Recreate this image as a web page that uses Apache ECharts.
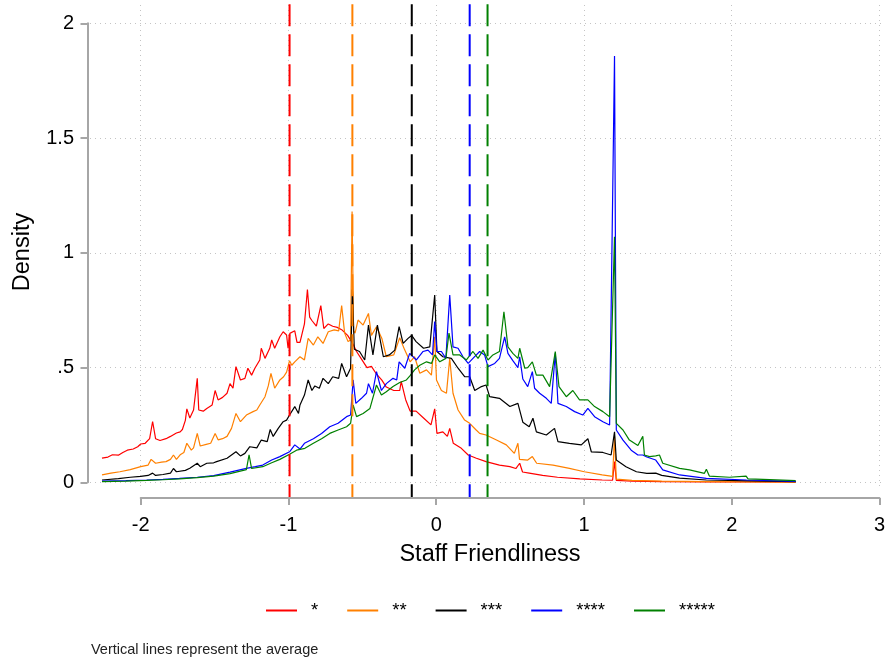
<!DOCTYPE html>
<html>
<head>
<meta charset="utf-8">
<script src="https://cdn.jsdelivr.net/npm/echarts@6/dist/echarts.min.js"></script>
<style>
  html, body { margin: 0; padding: 0; background: #ffffff; }
  #chart { width: 888px; height: 663px; }
</style>
</head>
<body>
<div id="chart"></div>
<script>
// Kernel-style density traces of staff friendliness, one per star rating
const ratingNames = ['*', '**', '***', '****', '*****'];
const ratingColors = ['#ff0000', '#ff8000', '#000000', '#0000ff', '#008000'];

// Mean of each rating group (drawn as dashed verticals)
const ratingMeans = [-1.0, -0.578, -0.179, 0.21, 0.33];

const yTickLabels = { 0: '0', 0.5: '.5', 1: '1', 1.5: '1.5', 2: '2' };

const density1 = [[-2.26,0.105],[-2.22,0.11],[-2.19,0.12],[-2.15,0.118],[-2.12,0.13],[-2.09,0.14],[-2.05,0.145],[-2.02,0.155],[-2.0,0.167],[-1.97,0.17],[-1.94,0.19],[-1.92,0.265],[-1.9,0.19],[-1.87,0.182],[-1.83,0.19],[-1.8,0.2],[-1.76,0.215],[-1.735,0.22],[-1.72,0.23],[-1.7,0.27],[-1.69,0.32],[-1.67,0.28],[-1.645,0.315],[-1.62,0.453],[-1.61,0.315],[-1.58,0.31],[-1.556,0.322],[-1.52,0.337],[-1.5,0.4],[-1.48,0.359],[-1.45,0.37],[-1.42,0.388],[-1.4,0.43],[-1.38,0.41],[-1.36,0.504],[-1.33,0.446],[-1.3,0.453],[-1.28,0.497],[-1.255,0.467],[-1.233,0.497],[-1.2,0.533],[-1.19,0.584],[-1.165,0.54],[-1.133,0.584],[-1.12,0.62],[-1.1,0.584],[-1.065,0.634],[-1.043,0.656],[-1.02,0.642],[-1.01,0.584],[-0.998,0.649],[-0.965,0.66],[-0.95,0.61],[-0.93,0.61],[-0.9,0.69],[-0.88,0.84],[-0.865,0.72],[-0.85,0.705],[-0.82,0.68],[-0.79,0.77],[-0.77,0.67],[-0.74,0.69],[-0.71,0.68],[-0.68,0.675],[-0.65,0.665],[-0.61,0.64],[-0.58,0.61],[-0.55,0.57],[-0.52,0.54],[-0.48,0.5],[-0.45,0.505],[-0.42,0.475],[-0.38,0.445],[-0.35,0.415],[-0.3,0.4],[-0.26,0.4],[-0.25,0.44],[-0.22,0.36],[-0.19,0.31],[-0.15,0.31],[-0.1,0.28],[-0.05,0.25],[-0.025,0.32],[-0.01,0.213],[0.03,0.22],[0.06,0.2],[0.076,0.235],[0.1,0.17],[0.154,0.148],[0.2,0.119],[0.255,0.105],[0.32,0.09],[0.41,0.075],[0.48,0.068],[0.52,0.06],[0.546,0.083],[0.565,0.045],[0.61,0.04],[0.7,0.03],[0.8,0.022],[0.95,0.015],[1.1,0.01],[1.17,0.009],[1.183,0.09],[1.195,0.008],[1.3,0.005],[1.5,0.003],[1.8,0.002],[2.1,0.0015],[2.4,0.001]];

const density2 = [[-2.26,0.032],[-2.2,0.04],[-2.14,0.046],[-2.07,0.055],[-2.0,0.068],[-1.95,0.075],[-1.93,0.1],[-1.9,0.083],[-1.86,0.088],[-1.83,0.09],[-1.8,0.1],[-1.78,0.119],[-1.76,0.1],[-1.735,0.12],[-1.71,0.13],[-1.69,0.17],[-1.66,0.14],[-1.645,0.15],[-1.62,0.213],[-1.6,0.158],[-1.56,0.165],[-1.53,0.17],[-1.5,0.213],[-1.48,0.185],[-1.45,0.19],[-1.42,0.2],[-1.39,0.235],[-1.36,0.3],[-1.33,0.264],[-1.29,0.293],[-1.245,0.308],[-1.22,0.315],[-1.2,0.337],[-1.165,0.373],[-1.143,0.42],[-1.125,0.475],[-1.1,0.41],[-1.065,0.446],[-1.04,0.46],[-1.02,0.48],[-1.0,0.53],[-0.985,0.51],[-0.965,0.525],[-0.93,0.547],[-0.9,0.533],[-0.875,0.627],[-0.84,0.598],[-0.81,0.634],[-0.775,0.605],[-0.74,0.656],[-0.7,0.664],[-0.67,0.66],[-0.65,0.77],[-0.63,0.65],[-0.607,0.613],[-0.59,0.62],[-0.58,1.18],[-0.57,0.66],[-0.56,0.65],[-0.54,0.707],[-0.506,0.685],[-0.47,0.736],[-0.45,0.64],[-0.416,0.678],[-0.38,0.627],[-0.35,0.547],[-0.3,0.555],[-0.26,0.63],[-0.226,0.576],[-0.19,0.525],[-0.16,0.547],[-0.125,0.475],[-0.08,0.49],[-0.047,0.467],[-0.025,0.634],[-0.013,0.446],[0.02,0.4],[0.054,0.388],[0.076,0.54],[0.098,0.388],[0.132,0.315],[0.176,0.271],[0.21,0.257],[0.25,0.23],[0.277,0.213],[0.32,0.206],[0.39,0.184],[0.456,0.163],[0.51,0.126],[0.534,0.17],[0.545,0.1],[0.6,0.097],[0.631,0.112],[0.66,0.083],[0.77,0.075],[0.88,0.061],[0.98,0.046],[1.1,0.032],[1.17,0.026],[1.183,0.2],[1.195,0.014],[1.3,0.008],[1.5,0.005],[1.8,0.003],[2.1,0.002],[2.4,0.001]];

const density3 = [[-2.26,0.01],[-2.15,0.016],[-2.07,0.022],[-2.0,0.026],[-1.95,0.03],[-1.92,0.04],[-1.9,0.03],[-1.85,0.034],[-1.8,0.04],[-1.78,0.06],[-1.76,0.046],[-1.7,0.052],[-1.67,0.061],[-1.62,0.083],[-1.6,0.068],[-1.556,0.083],[-1.51,0.085],[-1.49,0.09],[-1.42,0.105],[-1.36,0.133],[-1.33,0.115],[-1.3,0.126],[-1.267,0.155],[-1.22,0.15],[-1.19,0.184],[-1.15,0.177],[-1.13,0.23],[-1.11,0.2],[-1.076,0.235],[-1.043,0.264],[-1.02,0.271],[-1.0,0.293],[-0.965,0.33],[-0.94,0.3],[-0.93,0.337],[-0.9,0.38],[-0.875,0.446],[-0.85,0.4],[-0.83,0.42],[-0.8,0.41],[-0.775,0.453],[-0.74,0.43],[-0.71,0.46],[-0.67,0.453],[-0.65,0.518],[-0.617,0.46],[-0.59,0.497],[-0.578,0.84],[-0.565,0.58],[-0.53,0.57],[-0.495,0.533],[-0.47,0.685],[-0.44,0.555],[-0.41,0.685],[-0.37,0.547],[-0.33,0.555],[-0.293,0.576],[-0.264,0.678],[-0.237,0.605],[-0.204,0.627],[-0.18,0.64],[-0.15,0.613],[-0.1,0.584],[-0.058,0.59],[-0.025,0.816],[-0.01,0.57],[0.03,0.547],[0.087,0.54],[0.132,0.497],[0.176,0.46],[0.21,0.46],[0.244,0.4],[0.289,0.417],[0.32,0.424],[0.344,0.373],[0.41,0.366],[0.48,0.33],[0.534,0.344],[0.567,0.262],[0.61,0.242],[0.635,0.279],[0.658,0.22],[0.725,0.206],[0.78,0.235],[0.803,0.177],[0.88,0.17],[0.96,0.163],[1.004,0.19],[1.027,0.133],[1.105,0.13],[1.16,0.119],[1.183,0.22],[1.195,0.097],[1.26,0.068],[1.33,0.046],[1.4,0.039],[1.46,0.04],[1.5,0.03],[1.62,0.018],[1.8,0.01],[2.1,0.006],[2.4,0.003]];

const density4 = [[-2.26,0.005],[-2.1,0.007],[-1.96,0.01],[-1.85,0.013],[-1.74,0.017],[-1.62,0.022],[-1.51,0.029],[-1.4,0.044],[-1.29,0.061],[-1.23,0.068],[-1.18,0.075],[-1.12,0.097],[-1.065,0.112],[-1.0,0.133],[-0.965,0.163],[-0.93,0.145],[-0.9,0.17],[-0.84,0.19],[-0.785,0.213],[-0.73,0.242],[-0.674,0.257],[-0.617,0.286],[-0.59,0.293],[-0.573,0.446],[-0.555,0.344],[-0.517,0.366],[-0.483,0.388],[-0.47,0.43],[-0.443,0.388],[-0.416,0.482],[-0.383,0.4],[-0.35,0.43],[-0.305,0.453],[-0.28,0.446],[-0.264,0.525],[-0.226,0.497],[-0.193,0.562],[-0.148,0.533],[-0.103,0.57],[-0.07,0.576],[-0.04,0.555],[-0.025,0.7],[-0.01,0.57],[0.02,0.57],[0.05,0.54],[0.076,0.816],[0.098,0.59],[0.132,0.584],[0.165,0.547],[0.2,0.518],[0.232,0.54],[0.277,0.57],[0.31,0.555],[0.333,0.504],[0.378,0.518],[0.41,0.54],[0.445,0.634],[0.467,0.562],[0.5,0.53],[0.534,0.5],[0.546,0.547],[0.567,0.45],[0.6,0.417],[0.631,0.482],[0.646,0.41],[0.68,0.388],[0.725,0.366],[0.758,0.344],[0.785,0.562],[0.803,0.344],[0.859,0.33],[0.915,0.308],[0.97,0.293],[1.004,0.322],[1.049,0.286],[1.105,0.264],[1.15,0.25],[1.183,1.857],[1.195,0.228],[1.24,0.184],[1.295,0.14],[1.34,0.119],[1.373,0.119],[1.4,0.11],[1.46,0.097],[1.507,0.054],[1.62,0.032],[1.8,0.017],[2.07,0.01],[2.4,0.004]];

const density5 = [[-2.26,0.003],[-2.1,0.005],[-1.96,0.008],[-1.85,0.011],[-1.74,0.015],[-1.62,0.02],[-1.51,0.027],[-1.4,0.038],[-1.29,0.055],[-1.272,0.12],[-1.255,0.06],[-1.18,0.068],[-1.12,0.085],[-1.065,0.1],[-1.0,0.122],[-0.953,0.14],[-0.897,0.148],[-0.84,0.17],[-0.785,0.19],[-0.73,0.213],[-0.674,0.228],[-0.617,0.242],[-0.59,0.257],[-0.573,0.337],[-0.55,0.286],[-0.506,0.3],[-0.46,0.322],[-0.416,0.424],[-0.383,0.38],[-0.35,0.395],[-0.305,0.417],[-0.26,0.435],[-0.215,0.446],[-0.193,0.463],[-0.16,0.49],[-0.125,0.51],[-0.08,0.525],[-0.047,0.518],[-0.025,0.555],[0.009,0.525],[0.05,0.54],[0.071,0.65],[0.098,0.555],[0.143,0.555],[0.188,0.533],[0.232,0.57],[0.266,0.54],[0.3,0.576],[0.333,0.533],[0.366,0.555],[0.41,0.57],[0.44,0.743],[0.467,0.59],[0.5,0.562],[0.534,0.54],[0.546,0.584],[0.58,0.497],[0.6,0.5],[0.631,0.525],[0.658,0.467],[0.702,0.467],[0.747,0.417],[0.785,0.57],[0.81,0.417],[0.859,0.373],[0.903,0.4],[0.948,0.359],[1.004,0.359],[1.049,0.33],[1.105,0.308],[1.15,0.286],[1.183,1.07],[1.195,0.257],[1.24,0.228],[1.283,0.184],[1.34,0.16],[1.373,0.2],[1.384,0.119],[1.418,0.112],[1.46,0.115],[1.485,0.119],[1.507,0.083],[1.62,0.061],[1.687,0.054],[1.787,0.039],[1.8,0.057],[1.82,0.027],[1.955,0.022],[2.067,0.027],[2.08,0.015],[2.18,0.013],[2.4,0.007]];

const densities = [density1, density2, density3, density4, density5];

// Vertical span of the mean markers (top edge down to the x axis line)
const meanLineSpan = [2.083, -0.064];

const FONT = "'Liberation Sans', Arial, sans-serif";
const AXIS_GRAY = '#a6a6a6';
const GRID_GRAY = '#c4c4c4';

// pixel layout: x = -2 sits at 140.7px, x = 3 at 885px
const PX_LEFT_TICK = 140.7;
const PX_RIGHT_TICK = 885;
const PX_PER_UNIT = (PX_RIGHT_TICK - PX_LEFT_TICK) / 5;
const DATA_X_MIN = -2.3;   // a little room left of -2 for the lower tail
const dataGridLeft = PX_LEFT_TICK - (-2 - DATA_X_MIN) * PX_PER_UNIT;

const chart = echarts.init(document.getElementById('chart'), null, { renderer: 'canvas' });

const curveSeries = densities.map((d, i) => ({
  name: ratingNames[i],
  type: 'line',
  xAxisIndex: 0,
  yAxisIndex: 0,
  data: d,
  showSymbol: false,
  symbol: 'none',
  clip: false,
  silent: true,
  animation: false,
  z: 3 + i,
  lineStyle: { color: ratingColors[i], width: 1.2 },
  itemStyle: { color: ratingColors[i] }
}));

const meanSeries = ratingMeans.map((m, i) => ({
  name: 'mean' + i,
  type: 'line',
  xAxisIndex: 0,
  yAxisIndex: 0,
  data: [[m, meanLineSpan[0]], [m, meanLineSpan[1]]],
  showSymbol: false,
  symbol: 'none',
  clip: false,
  silent: true,
  animation: false,
  z: 10,
  lineStyle: { color: ratingColors[i], width: 2, type: [22, 8] }
}));

const option = {
  backgroundColor: '#ffffff',
  animation: false,
  textStyle: { fontFamily: FONT },
  grid: [
    // data area: x -2.3..3, y 0..2
    { left: dataGridLeft, right: 888 - PX_RIGHT_TICK, top: 23.3, bottom: 180.7, containLabel: false },
    // x axis with vertical guide lines
    { left: PX_LEFT_TICK, right: 888 - PX_RIGHT_TICK, top: 5, bottom: 173, containLabel: false },
    // y axis with horizontal guide lines
    { left: 90, right: 3, top: 23.3, bottom: 180.7, containLabel: false }
  ],
  xAxis: [
    { gridIndex: 0, type: 'value', min: DATA_X_MIN, max: 3, show: false },
    {
      gridIndex: 1, type: 'value', min: -2, max: 3, interval: 1, offset: 8,
      axisLine: { show: true, onZero: false, lineStyle: { color: AXIS_GRAY, width: 2 } },
      axisTick: { show: true, inside: false, length: 7, lineStyle: { color: AXIS_GRAY, width: 2 } },
      axisLabel: { show: true, margin: 17, fontSize: 20, color: '#000', fontFamily: FONT,
                   showMinLabel: true, showMaxLabel: true },
      splitLine: { show: true, lineStyle: { color: GRID_GRAY, width: 1, type: [1, 4] } }
    },
    { gridIndex: 2, type: 'value', min: -2, max: 3, show: false }
  ],
  yAxis: [
    { gridIndex: 0, type: 'value', min: 0, max: 2, show: false },
    { gridIndex: 1, type: 'value', min: 0, max: 1, show: false },
    {
      gridIndex: 2, type: 'value', min: 0, max: 2, interval: 0.5, offset: 2.5,
      axisLine: { show: true, onZero: false, lineStyle: { color: AXIS_GRAY, width: 2 } },
      axisTick: { show: true, inside: false, length: 7, lineStyle: { color: AXIS_GRAY, width: 2 } },
      axisLabel: { show: true, margin: 13.5, fontSize: 20, color: '#000', fontFamily: FONT,
                   showMinLabel: true, showMaxLabel: true,
                   formatter: v => yTickLabels[v] !== undefined ? yTickLabels[v] : String(v) },
      splitLine: { show: true, lineStyle: { color: GRID_GRAY, width: 1, type: [1, 4] } }
    }
  ],
  legend: {
    data: ratingNames,
    left: 266,
    top: 601,
    padding: 0,
    orient: 'horizontal',
    icon: 'rect',
    itemWidth: 31,
    itemHeight: 2,
    itemGap: 29,
    selectedMode: false,
    textStyle: { fontSize: 18.5, color: '#000', fontFamily: FONT, padding: [0, 0, 0, 9] }
  },
  graphic: [
    {
      type: 'text', x: 23, y: 252, rotation: Math.PI / 2,
      style: { text: 'Density', fontSize: 23.5, fontFamily: FONT, fill: '#000',
               align: 'center', verticalAlign: 'middle' }
    },
    {
      type: 'text', x: 490, y: 555,
      style: { text: 'Staff Friendliness', fontSize: 23.5, fontFamily: FONT, fill: '#000',
               align: 'center', verticalAlign: 'middle' }
    },
    {
      type: 'text', x: 91, y: 650,
      style: { text: 'Vertical lines represent the average', fontSize: 14.5, fontFamily: FONT,
               fill: '#222', align: 'left', verticalAlign: 'middle' }
    }
  ],
  series: curveSeries.concat(meanSeries)
};

chart.setOption(option);
</script>
</body>
</html>
